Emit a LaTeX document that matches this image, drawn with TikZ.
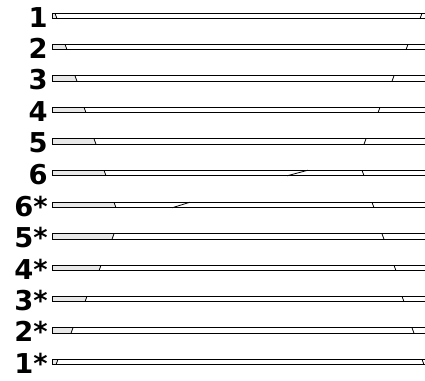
\documentclass[tikz,border=0pt]{standalone}
\usepackage{fontspec}
\setmainfont{DejaVu Sans}
\begin{document}
\begin{tikzpicture}[x=0.75pt,y=-0.75pt,
  barline/.style={draw=black,line width=0.6pt},
  segfill/.style={fill=black!9},
  tickline/.style={draw=black,line width=0.6pt},
  lab/.style={anchor=base east,inner sep=0pt,font=\fontsize{20.5}{24}\selectfont\bfseries}]
\useasboundingbox (0,0) rectangle (425,380);
\def\h{2.8}
\foreach \lab/\y/\lx/\ls/\rx/\rs [count=\i] in {
  1/16/56/1/421/-1,
  2/47/66/1/407/-1,
  3/78.5/76/1/393/-1,
  4/110/85/1/379/-1,
  5/141.5/95/1/365/-1,
  6/173/105/1/363/1,
  6*/205/115/1/373/1,
  5*/236.5/113/-1/383/1,
  4*/268/100/-1/395/1,
  3*/299/86/-1/403/1,
  2*/330.5/72/-1/413/1,
  1*/362/57/-1/423/1}
{
  \fill[segfill] (52,\y-\h) -- (\lx-\ls,\y-\h) -- (\lx+\ls,\y+\h) -- (52,\y+\h) -- cycle;
  \draw[barline] (428,\y-\h) -- (52,\y-\h) -- (52,\y+\h) -- (428,\y+\h);
  \draw[tickline] (\lx-\ls,\y-\h) -- (\lx+\ls,\y+\h);
  \draw[tickline] (\rx-\rs,\y-\h) -- (\rx+\rs,\y+\h);
  \node[lab] (lab\i) at (48,\y+11) {\lab};
}
\draw[tickline] (287,173+\h) -- (308,173-\h);
\draw[tickline] (172,205+\h) -- (190,205-\h);
\end{tikzpicture}
\end{document}
